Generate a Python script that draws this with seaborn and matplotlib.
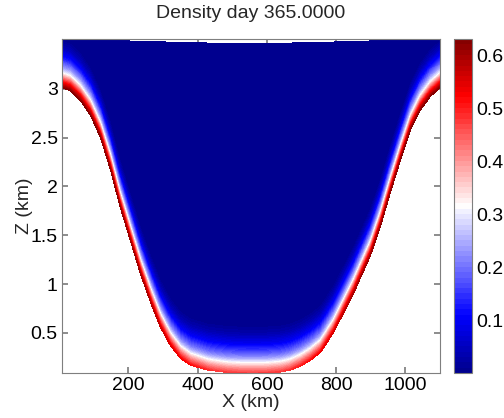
import numpy as np
import matplotlib
matplotlib.use("Agg")
import matplotlib.pyplot as plt
import seaborn as sns
from matplotlib.colors import LinearSegmentedColormap

# ---- data ----
bottom_x = [8, 32, 61, 90, 119, 148, 175, 205, 235, 264, 292, 321, 350, 379, 428,
            486, 523, 560, 600, 640, 668, 697, 726, 755, 792, 821, 850, 870, 899,
            928, 957, 986, 1015, 1043, 1072, 1100]
bottom_z = [3.01, 2.98, 2.88, 2.73, 2.50, 2.17, 1.80, 1.45, 1.10, 0.81, 0.56, 0.37,
            0.24, 0.17, 0.12, 0.095, 0.09, 0.09, 0.09, 0.10, 0.12, 0.16, 0.22, 0.30,
            0.50, 0.70, 0.90, 1.06, 1.29, 1.59, 1.94, 2.27, 2.58, 2.78, 2.92, 3.01]
surface_x = [8, 200, 400, 550, 700, 900, 1100]
surface_z = [3.51, 3.49, 3.47, 3.465, 3.47, 3.49, 3.51]
bed_density_x = [8, 150, 250, 350, 450, 560, 650, 750, 850, 950, 1100]
bed_density = [0.63, 0.62, 0.60, 0.53, 0.48, 0.47, 0.48, 0.53, 0.60, 0.62, 0.63]
profile_h = [0.0, 0.05, 0.10, 0.15, 0.20, 0.30, 0.40, 0.50, 4.0]
profile_frac = [1.0, 0.85, 0.68, 0.50, 0.38, 0.20, 0.07, 0.0, 0.0]
x_ticks = [200, 400, 600, 800, 1000]
y_ticks = [0.5, 1, 1.5, 2, 2.5, 3]
cbar_ticks = [0.1, 0.2, 0.3, 0.4, 0.5, 0.6]
title = "Density day 365.0000"
x_label = "X (km)"
y_label = "Z (km)"

sns.set_theme(style="ticks")
plt.rcParams['font.family'] = ['Liberation Sans', 'DejaVu Sans']

# ---- build the field on a terrain-following grid ----
nx, ns = 500, 240
x = np.linspace(bottom_x[0], bottom_x[-1], nx)
zb = np.interp(x, bottom_x, bottom_z)
zt = np.interp(x, surface_x, surface_z)
s = np.linspace(0, 1, ns)
X = np.tile(x, (ns, 1))
Z = zb[None, :] + s[:, None] * (zt - zb)[None, :]
Hb = Z - zb[None, :]
rb = np.interp(x, bed_density_x, bed_density)
rho = rb[None, :] * np.interp(Hb, profile_h, profile_frac)

vmax = 0.632
rho = np.clip(rho, 0, vmax)

cmap = LinearSegmentedColormap.from_list(
    "redblue",
    [(0.0, (0.0, 0.0, 0.54)), (0.17, (0.0, 0.0, 1.0)), (0.5, (1.0, 1.0, 1.0)),
     (0.83, (1.0, 0.0, 0.0)), (1.0, (0.5, 0.0, 0.0))])

fig = plt.figure(figsize=(5.04, 4.18), dpi=100)
ax = fig.add_axes([62 / 504, 45 / 418, 378 / 504, 334 / 418])
cax = fig.add_axes([454 / 504, 45 / 418, 18 / 504, 334 / 418])

levels = np.linspace(0, vmax, 64)
cf = ax.contourf(X, Z, rho, levels=levels, cmap=cmap, vmin=0, vmax=vmax)

fs = 14
ax.set_xlim(8, 1100)
ax.set_ylim(0.09, 3.51)
ax.set_xticks(x_ticks)
ax.set_yticks(y_ticks)
ax.set_yticklabels(["0.5", "1", "1.5", "2", "2.5", "3"])
ax.set_title(title, fontsize=fs, pad=15)
ax.set_xlabel(x_label, fontsize=fs, labelpad=0)
ax.set_ylabel(y_label, fontsize=fs, labelpad=-2)
gray = "#7f7f7f"
for sp in ax.spines.values():
    sp.set_visible(True)
    sp.set_color(gray)
    sp.set_linewidth(0.8)
ax.tick_params(direction="in", top=True, right=True, length=4, color=gray,
               labelsize=fs, labelcolor="black", pad=3)

cb = fig.colorbar(cf, cax=cax)
cb.set_ticks(cbar_ticks)
cb.set_ticklabels(["0.1", "0.2", "0.3", "0.4", "0.5", "0.6"])
cb.outline.set_edgecolor(gray)
cb.outline.set_linewidth(0.8)
cax.tick_params(direction="in", left=True, right=True, length=4, color=gray,
                labelsize=fs, labelcolor="black", pad=3)

fig.savefig("out.png", dpi=100)
